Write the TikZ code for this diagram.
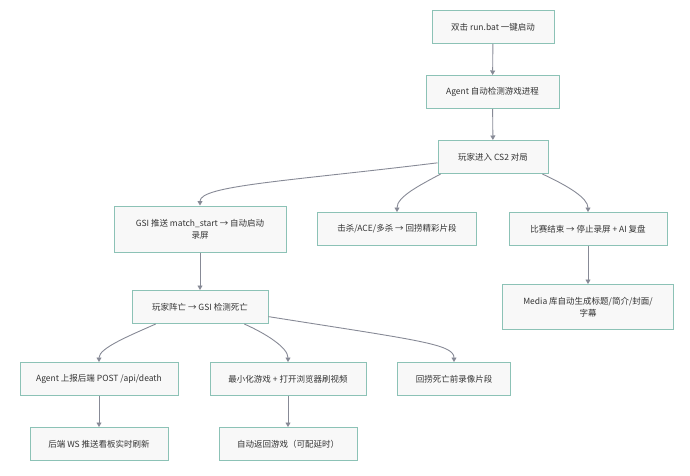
\documentclass[tikz,border=0pt]{standalone}
\usepackage{fontspec}
\newfontfamily\cjk{Noto Sans CJK SC}
\usepackage{tikz}
\usetikzlibrary{arrows.meta,shapes,positioning}
\usepackage{xcolor}
\definecolor{flowteal}{RGB}{140,194,182}
\definecolor{flowfill}{RGB}{248,248,248}
\definecolor{flowgray}{RGB}{135,138,150}
\definecolor{flowtext}{RGB}{51,51,51}
\tikzstyle{box} = [draw=flowteal, fill=flowfill, text=flowtext, line width=1pt, minimum height=33pt, inner sep=0pt, align=center, font=\cjk\fontsize{8.5}{12.4}\selectfont]
\tikzstyle{flowarrow} = [line width=0.9pt, color=flowgray, -{Triangle[length=4.5pt,width=5pt]}]

\begin{document}
\begin{tikzpicture}[x=1pt,y=1pt]
\useasboundingbox (0,0) rectangle (690,-476);

% Top chain
\node[box, minimum width=122pt] (launch) at (493,-27) {双击 run.bat 一键启动};
\node[box, minimum width=133pt] (detect) at (492.5,-92) {Agent 自动检测游戏进程};
\node[box, minimum width=110pt] (enter) at (493,-157) {玩家进入 CS2 对局};

% Match events
\node[box, minimum width=172pt, minimum height=46pt] (gsi) at (200,-229) {GSI 推送 match\_start → 自动启动\\录屏};
\node[box, minimum width=159pt] (kill) at (397,-229) {击杀/ACE/多杀 → 回捞精彩片段};
\node[box, minimum width=158pt] (finish) at (588,-229) {比赛结束 → 停止录屏 + AI 复盘};
\node[box, minimum width=136pt] (death) at (200,-307) {玩家阵亡 → GSI 检测死亡};
\node[box, minimum width=171pt, minimum height=45pt] (media) at (588,-307) {Media 库自动生成标题/简介/封面/\\字幕};

% Death handling
\node[box, minimum width=158pt] (report) at (99,-379) {Agent 上报后端 POST /api/death};
\node[box, minimum width=156pt] (minimize) at (288,-379) {最小化游戏 + 打开浏览器刷视频};
\node[box, minimum width=113pt] (rewind) at (454,-379) {回捞死亡前录像片段};
\node[box, minimum width=138pt] (push) at (99,-444) {后端 WS 推送看板实时刷新};
\node[box, minimum width=138pt] (back) at (288,-444) {自动返回游戏（可配延时）};

% Arrows
\draw[flowarrow] (launch) -- (detect);
\draw[flowarrow] (detect) -- (enter);
\draw[flowarrow] (enter.186) to[out=187, in=90, out distance=150pt, in distance=20pt] (gsi.north);
\draw[flowarrow] (enter.198) to[out=208, in=90, out distance=25pt, in distance=15pt] (kill.north);
\draw[flowarrow] (enter.341) to[out=335, in=90, out distance=28pt, in distance=14pt] (finish.north);
\draw[flowarrow] (gsi) -- (death);
\draw[flowarrow] (finish) -- (media);
\draw[flowarrow] (death.201) to[out=204, in=90, out distance=28pt, in distance=14pt] (report.north);
\draw[flowarrow] (death.339) to[out=336, in=90, out distance=25pt, in distance=14pt] (minimize.north);
\draw[flowarrow] (death.352) to[out=351, in=90, out distance=150pt, in distance=18pt] (rewind.north);
\draw[flowarrow] (report) -- (push);
\draw[flowarrow] (minimize) -- (back);
\end{tikzpicture}
\end{document}
